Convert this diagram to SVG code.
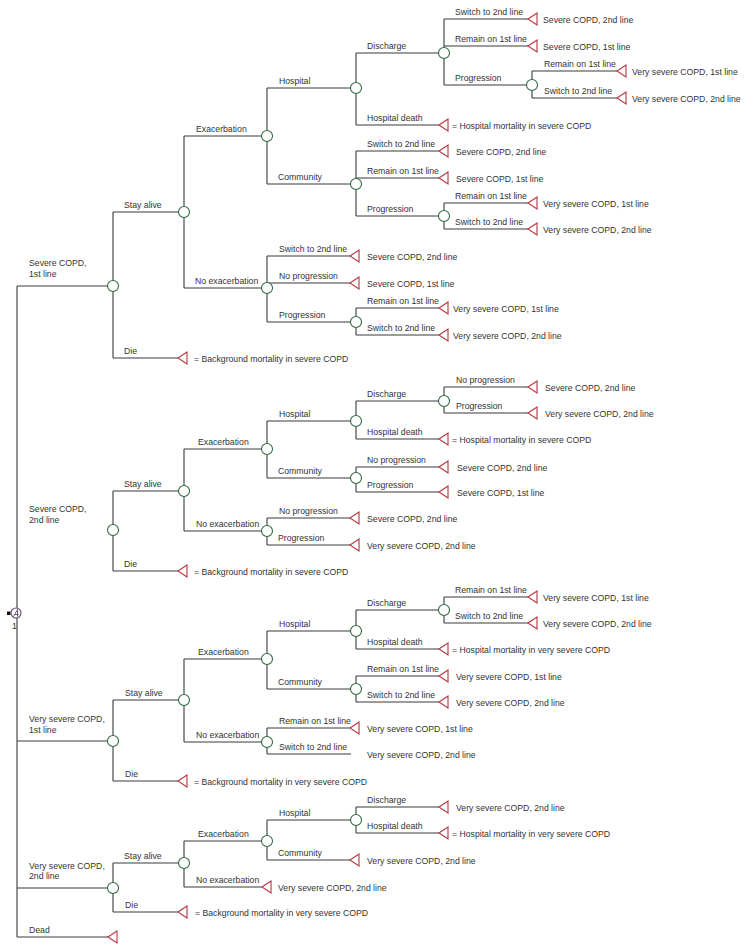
<svg xmlns="http://www.w3.org/2000/svg" xmlns:xlink="http://www.w3.org/1999/xlink" width="748" height="952" viewBox="0 0 748 952">
<style>
.ln{fill:none;stroke:#3a3a3a;stroke-width:1.1}
.ch{fill:#fff;stroke:#2f6a3e;stroke-width:1.1}
.tm{fill:#fff;stroke:#b5363f;stroke-width:1.1}
text{font-family:"Liberation Sans",Arial,sans-serif;font-size:8.7px;fill:#333}
</style>
<defs>
<circle id="cn" cx="0" cy="0" r="5.5"/>
<polygon id="tri" points="0,0 9,-6 9,6"/>
</defs>
<rect width="748" height="952" fill="#fff"/>

<g id="connectors" class="ln">
<path d="M17,286V937M17,286H113M17,741H113M17,888H113M17,937H108"/>
<path d="M113,212V358M113,212H184M113,358H178"/>
<path d="M184,136V288M184,136H267M184,288H267"/>
<path d="M267,88V184M267,88H356M267,184H356"/>
<path d="M356,53V125M356,53H444M356,125H439"/>
<path d="M444,19V85M444,19H528M444,46H528M444,85H532"/>
<path d="M532,71V98M532,71H617M532,98H617"/>
<path d="M356,151V216M356,151H439M356,178H439M356,216H444"/>
<path d="M444,203V229M444,203H528M444,229H528"/>
<path d="M267,256V322M267,256H350M267,283H350M267,322H356"/>
<path d="M356,308V335M356,308H439M356,335H439"/>
<path d="M113,491V571M113,491H184M113,571H178"/>
<path d="M184,449V531M184,449H267M184,531H267"/>
<path d="M267,421V478M267,421H356M267,478H356"/>
<path d="M356,401V439M356,401H444M356,439H439"/>
<path d="M444,387V413M444,387H528M444,413H528"/>
<path d="M356,467V492M356,467H439M356,492H439"/>
<path d="M267,518V545M267,518H350M267,545H350"/>
<path d="M113,700V781M113,700H184M113,781H178"/>
<path d="M184,659V742M184,659H267M184,742H267"/>
<path d="M267,631V689M267,631H356M267,689H356"/>
<path d="M356,610V649M356,610H444M356,649H439"/>
<path d="M444,597V623M444,597H528M444,623H528"/>
<path d="M356,676V702M356,676H439M356,702H439"/>
<path d="M267,728V754M267,728H350M267,754H351"/>
<path d="M113,863V912M113,863H184M113,912H178"/>
<path d="M184,841V887M184,841H267M184,887H262"/>
<path d="M267,820V860M267,820H356M267,860H350"/>
<path d="M356,807V833M356,807H439M356,833H439"/>
</g>

<g id="branch-labels">
<text x="29" y="266">Severe COPD,</text><text x="29" y="277">1st line</text>
<text x="29" y="512">Severe COPD,</text><text x="29" y="523">2nd line</text>
<text x="29" y="722">Very severe COPD,</text><text x="29" y="733">1st line</text>
<text x="29" y="869">Very severe COPD,</text><text x="29" y="879">2nd line</text>
<text x="29" y="933">Dead</text>

<text x="124" y="207.5">Stay alive</text>
<text x="124" y="354">Die</text>
<text x="196" y="131.5">Exacerbation</text>
<text x="195" y="283.5">No exacerbation</text>
<text x="279" y="83.5">Hospital</text>
<text x="278" y="179.5">Community</text>
<text x="367" y="48.5">Discharge</text>
<text x="367" y="120.5">Hospital death</text>
<text x="455" y="14.5">Switch to 2nd line</text>
<text x="455" y="41.5">Remain on 1st line</text>
<text x="455" y="80.5">Progression</text>
<text x="544" y="66.5">Remain on 1st line</text>
<text x="544" y="93.5">Switch to 2nd line</text>
<text x="367" y="146.5">Switch to 2nd line</text>
<text x="367" y="173.5">Remain on 1st line</text>
<text x="367" y="211.5">Progression</text>
<text x="455" y="198.5">Remain on 1st line</text>
<text x="455" y="224.5">Switch to 2nd line</text>
<text x="279" y="251.5">Switch to 2nd line</text>
<text x="279" y="278.5">No progression</text>
<text x="279" y="317.5">Progression</text>
<text x="367" y="303.5">Remain on 1st line</text>
<text x="367" y="330.5">Switch to 2nd line</text>

<text x="124" y="486.5">Stay alive</text>
<text x="124" y="567">Die</text>
<text x="198" y="444.5">Exacerbation</text>
<text x="196" y="526.5">No exacerbation</text>
<text x="279" y="416.5">Hospital</text>
<text x="278" y="473.5">Community</text>
<text x="367" y="396.5">Discharge</text>
<text x="367" y="434.5">Hospital death</text>
<text x="456" y="382.5">No progression</text>
<text x="456" y="408.5">Progression</text>
<text x="367" y="462.5">No progression</text>
<text x="367" y="487.5">Progression</text>
<text x="279" y="513.5">No progression</text>
<text x="278" y="540.5">Progression</text>

<text x="125" y="695.5">Stay alive</text>
<text x="125" y="777">Die</text>
<text x="198" y="654.5">Exacerbation</text>
<text x="196" y="737.5">No exacerbation</text>
<text x="279" y="626.5">Hospital</text>
<text x="278" y="684.5">Community</text>
<text x="367" y="605.5">Discharge</text>
<text x="367" y="644.5">Hospital death</text>
<text x="455" y="592.5">Remain on 1st line</text>
<text x="455" y="618.5">Switch to 2nd line</text>
<text x="367" y="671.5">Remain on 1st line</text>
<text x="367" y="697.5">Switch to 2nd line</text>
<text x="279" y="723.5">Remain on 1st line</text>
<text x="279" y="749.5">Switch to 2nd line</text>

<text x="124" y="858.5">Stay alive</text>
<text x="125" y="908">Die</text>
<text x="198" y="836.5">Exacerbation</text>
<text x="196" y="882.5">No exacerbation</text>
<text x="279" y="815.5">Hospital</text>
<text x="278" y="855.5">Community</text>
<text x="367" y="802.5">Discharge</text>
<text x="367" y="828.5">Hospital death</text>
</g>

<g id="decision-root">
<rect x="7" y="611.5" width="3.5" height="3.5" fill="#111"/>
<circle cx="16" cy="613" r="5" fill="#fff" stroke="#5a4a6a" stroke-width="1.1"/>
<path d="M13.5,616.5 L17.5,609.5 M14.5,614.5 H18.5 M17.5,609.5 V616.5" fill="none" stroke="#5a4a6a" stroke-width="0.9"/>
<text x="12" y="629">1</text>
</g>

<g id="chance-nodes" class="ch">
<g id="n-s1"><use href="#cn" x="113" y="286"/></g>
<g id="n-s1-alive"><use href="#cn" x="184" y="212"/></g>
<g id="n-s1-exac"><use href="#cn" x="267" y="136"/></g>
<g id="n-s1-noexac"><use href="#cn" x="267" y="288"/></g>
<g id="n-s1-hosp"><use href="#cn" x="356" y="88"/></g>
<g id="n-s1-comm"><use href="#cn" x="356" y="184"/></g>
<g id="n-s1-disch"><use href="#cn" x="444" y="53"/></g>
<g id="n-s1-disch-prog"><use href="#cn" x="532" y="85"/></g>
<g id="n-s1-comm-prog"><use href="#cn" x="444" y="216"/></g>
<g id="n-s1-noexac-prog"><use href="#cn" x="356" y="322"/></g>
<g id="n-s2"><use href="#cn" x="113" y="530"/></g>
<g id="n-s2-alive"><use href="#cn" x="184" y="491"/></g>
<g id="n-s2-exac"><use href="#cn" x="267" y="449"/></g>
<g id="n-s2-noexac"><use href="#cn" x="267" y="531"/></g>
<g id="n-s2-hosp"><use href="#cn" x="356" y="421"/></g>
<g id="n-s2-comm"><use href="#cn" x="356" y="478"/></g>
<g id="n-s2-disch"><use href="#cn" x="444" y="401"/></g>
<g id="n-v1"><use href="#cn" x="113" y="741"/></g>
<g id="n-v1-alive"><use href="#cn" x="184" y="700"/></g>
<g id="n-v1-exac"><use href="#cn" x="267" y="659"/></g>
<g id="n-v1-noexac"><use href="#cn" x="267" y="742"/></g>
<g id="n-v1-hosp"><use href="#cn" x="356" y="631"/></g>
<g id="n-v1-comm"><use href="#cn" x="356" y="689"/></g>
<g id="n-v1-disch"><use href="#cn" x="444" y="610"/></g>
<g id="n-v2"><use href="#cn" x="113" y="888"/></g>
<g id="n-v2-alive"><use href="#cn" x="184" y="863"/></g>
<g id="n-v2-exac"><use href="#cn" x="267" y="841"/></g>
<g id="n-v2-hosp"><use href="#cn" x="356" y="820"/></g>
</g>

<g id="terminals">
<g id="t1"><use class="tm" href="#tri" x="528" y="19"/><text x="543" y="22.5">Severe COPD, 2nd line</text></g>
<g id="t2"><use class="tm" href="#tri" x="528" y="46"/><text x="543" y="49.5">Severe COPD, 1st line</text></g>
<g id="t3"><use class="tm" href="#tri" x="617" y="71"/><text x="632" y="74.5">Very severe COPD, 1st line</text></g>
<g id="t4"><use class="tm" href="#tri" x="617" y="98"/><text x="632" y="101.5">Very severe COPD, 2nd line</text></g>
<g id="t5"><use class="tm" href="#tri" x="439" y="125"/><text x="452" y="128.5">= Hospital mortality in severe COPD</text></g>
<g id="t6"><use class="tm" href="#tri" x="439" y="151"/><text x="456" y="154.5">Severe COPD, 2nd line</text></g>
<g id="t7"><use class="tm" href="#tri" x="439" y="178"/><text x="456" y="181.5">Severe COPD, 1st line</text></g>
<g id="t8"><use class="tm" href="#tri" x="528" y="203"/><text x="543" y="206.5">Very severe COPD, 1st line</text></g>
<g id="t9"><use class="tm" href="#tri" x="528" y="229"/><text x="543" y="232.5">Very severe COPD, 2nd line</text></g>
<g id="t10"><use class="tm" href="#tri" x="350" y="256"/><text x="367" y="259.5">Severe COPD, 2nd line</text></g>
<g id="t11"><use class="tm" href="#tri" x="350" y="283"/><text x="367" y="286.5">Severe COPD, 1st line</text></g>
<g id="t12"><use class="tm" href="#tri" x="439" y="308"/><text x="453" y="311.5">Very severe COPD, 1st line</text></g>
<g id="t13"><use class="tm" href="#tri" x="439" y="335"/><text x="453" y="338.5">Very severe COPD, 2nd line</text></g>
<g id="t14"><use class="tm" href="#tri" x="178" y="358"/><text x="194" y="361.5">= Background mortality in severe COPD</text></g>

<g id="t15"><use class="tm" href="#tri" x="528" y="387"/><text x="545" y="390.5">Severe COPD, 2nd line</text></g>
<g id="t16"><use class="tm" href="#tri" x="528" y="413"/><text x="545" y="416.5">Very severe COPD, 2nd line</text></g>
<g id="t17"><use class="tm" href="#tri" x="439" y="439"/><text x="452" y="442.5">= Hospital mortality in severe COPD</text></g>
<g id="t18"><use class="tm" href="#tri" x="439" y="467"/><text x="457" y="470.5">Severe COPD, 2nd line</text></g>
<g id="t19"><use class="tm" href="#tri" x="439" y="492"/><text x="457" y="495.5">Severe COPD, 1st line</text></g>
<g id="t20"><use class="tm" href="#tri" x="350" y="518"/><text x="367" y="521.5">Severe COPD, 2nd line</text></g>
<g id="t21"><use class="tm" href="#tri" x="350" y="545"/><text x="367" y="548.5">Very severe COPD, 2nd line</text></g>
<g id="t22"><use class="tm" href="#tri" x="178" y="571"/><text x="194" y="574.5">= Background mortality in severe COPD</text></g>

<g id="t23"><use class="tm" href="#tri" x="528" y="597"/><text x="543" y="600.5">Very severe COPD, 1st line</text></g>
<g id="t24"><use class="tm" href="#tri" x="528" y="623"/><text x="543" y="626.5">Very severe COPD, 2nd line</text></g>
<g id="t25"><use class="tm" href="#tri" x="439" y="649"/><text x="452" y="652.5">= Hospital mortality in very severe COPD</text></g>
<g id="t26"><use class="tm" href="#tri" x="439" y="676"/><text x="456" y="679.5">Very severe COPD, 1st line</text></g>
<g id="t27"><use class="tm" href="#tri" x="439" y="702"/><text x="456" y="705.5">Very severe COPD, 2nd line</text></g>
<g id="t28"><use class="tm" href="#tri" x="350" y="728"/><text x="367" y="731.5">Very severe COPD, 1st line</text></g>
<g id="t29"><text x="367" y="757.5">Very severe COPD, 2nd line</text></g>
<g id="t30"><use class="tm" href="#tri" x="178" y="781"/><text x="194" y="784.5">= Background mortality in very severe COPD</text></g>

<g id="t31"><use class="tm" href="#tri" x="439" y="807"/><text x="456" y="810.5">Very severe COPD, 2nd line</text></g>
<g id="t32"><use class="tm" href="#tri" x="439" y="833"/><text x="452" y="836.5">= Hospital mortality in very severe COPD</text></g>
<g id="t33"><use class="tm" href="#tri" x="350" y="860"/><text x="367" y="863.5">Very severe COPD, 2nd line</text></g>
<g id="t34"><use class="tm" href="#tri" x="262" y="887"/><text x="278" y="890.5">Very severe COPD, 2nd line</text></g>
<g id="t35"><use class="tm" href="#tri" x="178" y="912"/><text x="195" y="915.5">= Background mortality in very severe COPD</text></g>
<g id="t36"><use class="tm" href="#tri" x="108" y="937"/></g>
</g>
</svg>
